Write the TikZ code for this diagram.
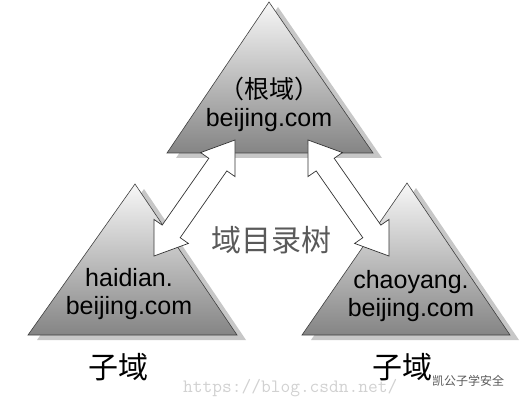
\documentclass[tikz,border=0pt]{standalone}
\usepackage{fontspec}
\setmainfont{Liberation Sans}
\newfontfamily\cjk{Noto Sans CJK SC}
\usetikzlibrary{calc}

\begin{document}
\begin{tikzpicture}[x=1pt,y=-1pt,
        domaintri/.style={draw=black!75,line width=0.6pt,top color=black!3,bottom color=black!48},
        domainshadow/.style={fill=black!22,draw=none},
        fatarrow/.style={draw=black!80,fill=white,line width=0.7pt,line join=miter},
        dnsname/.style={font=\fontsize{25}{28}\selectfont,align=center,text=black},
        cjklabel/.style={font=\cjk\fontsize{30}{34}\selectfont}]
        \useasboundingbox(0,0)rectangle(524,406);
        % root domain and the two child domains
        \coordinate(RA)at(269,2);
        \coordinate(RL)at(167,153);
        \coordinate(RR)at(373,153);
        \coordinate(HA)at(135,184);
        \coordinate(HL)at(28,335);
        \coordinate(HR)at(237,335);
        \coordinate(CA)at(407,183);
        \coordinate(CL)at(302,335);
        \coordinate(CR)at(510,335);
        \foreach \t in {R,H,C}
            \fill[domainshadow]($(\t A)+(9,5)$)--($(\t L)+(9,5)$)--($(\t R)+(9,5)$)--cycle;
        \foreach \t in {R,H,C}
            \draw[domaintri](\t A)--(\t L)--(\t R)--cycle;
        % trust arrows
        \coordinate(upL)at(235,140);
        \coordinate(downL)at(154,256);
        \coordinate(upR)at(308,140);
        \coordinate(downR)at(389,256);
        \foreach \p/\q in {upL/downL,upR/downR}{
            \coordinate(h1)at($(\p)!30pt!(\q)$);
            \coordinate(h2)at($(\q)!30pt!(\p)$);
            \draw[fatarrow](\p)--($(h1)!21pt!90:(\q)$)--($(h1)!11pt!90:(\q)$)
                --($(h2)!11pt!-90:(\p)$)--($(h2)!21pt!-90:(\p)$)--(\q)
                --($(h2)!21pt!90:(\p)$)--($(h2)!11pt!90:(\p)$)
                --($(h1)!11pt!-90:(\q)$)--($(h1)!21pt!-90:(\q)$)--cycle;
        }
        \node[dnsname](root)at(269,104){{\cjk （根域）}\\beijing.com};
        \node[dnsname](haidian)at(129,294){haidian.\\beijing.com};
        \node[dnsname](chaoyang)at(411,296){chaoyang.\\beijing.com};
        \node[cjklabel,text=black!65](tree)at(271,240){域目录树};
        \node[cjklabel](subH)at(118,367){子域};
        \node[cjklabel](subC)at(402,367){子域};
        % watermark
        \node[anchor=west,text=black!18,font=\ttfamily\fontsize{18.9}{20}\selectfont,inner sep=0pt](url)at(183,388){https://blog.csdn.net/};
        \node[text=black!65,font=\cjk\fontsize{12}{14}\selectfont,inner sep=0pt](wm)at(468,381){凯公子学安全};
    \end{tikzpicture}
\end{document}
